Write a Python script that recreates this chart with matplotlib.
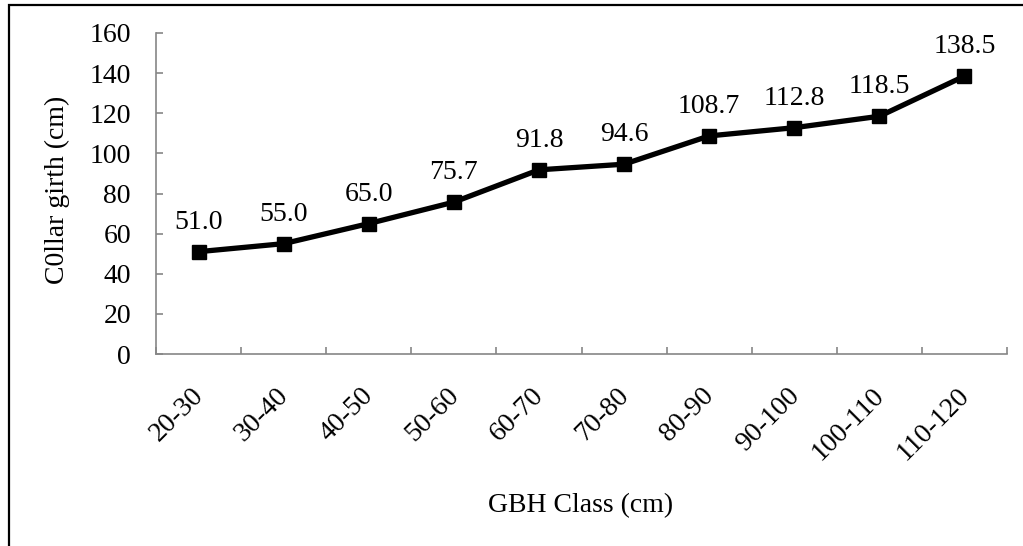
import numpy as np
import matplotlib.pyplot as plt
import matplotlib.transforms as mtransforms
from matplotlib.patches import Rectangle

# GBH classes and mean collar girth
classes = ['20-30', '30-40', '40-50', '50-60', '60-70',
           '70-80', '80-90', '90-100', '100-110', '110-120']
girth = [51.0, 55.0, 65.0, 75.7, 91.8, 94.6, 108.7, 112.8, 118.5, 138.5]
yticks = [0, 20, 40, 60, 80, 100, 120, 140, 160]

plt.rcParams['font.family'] = ['Liberation Serif', 'DejaVu Serif']
fs = 20

fig = plt.figure(figsize=(10.23, 5.46), dpi=100)
ax = fig.add_axes([156/1023, 1 - 354/546, 851/1023, 321/546])

x = np.arange(len(classes))
ax.plot(x, girth, '-s', color='black', lw=3.8, ms=9.5)

# value labels above each point
for xi, yi in zip(x, girth):
    ax.annotate('%.1f' % yi, (xi, yi), xytext=(0, 16.5),
                textcoords='offset points', ha='center', va='baseline',
                fontsize=fs)

ax.set_xlim(-0.5, len(classes) - 0.5)
ax.set_ylim(0, 160)
ax.set_yticks(yticks)
ax.set_xticks(np.arange(len(classes) + 1) - 0.5)
ax.set_xticklabels([])

# slanted category labels, placed by hand
trans = mtransforms.blended_transform_factory(ax.transData, ax.transAxes)
shift = mtransforms.ScaledTranslation(10/100, -29/100, fig.dpi_scale_trans)
for xi, lab in zip(x, classes):
    ax.text(xi, 0, lab, transform=trans + shift, rotation=45,
            ha='right', va='top', fontsize=fs)

gray = '#868686'
for s in ['top', 'right']:
    ax.spines[s].set_visible(False)
for s in ['left', 'bottom']:
    ax.spines[s].set_color(gray)
    ax.spines[s].set_linewidth(1.2)

ax.tick_params(axis='y', direction='in', length=5, width=1.2, color=gray,
               pad=18, labelsize=fs)
ax.tick_params(axis='x', direction='in', length=5, width=1.2, color=gray)

fig.text(581/1023, 1 - 512/546, 'GBH Class (cm)', ha='center',
         va='baseline', fontsize=fs)
fig.text(57/1023, 1 - 190/546, 'C0llar girth (cm)', ha='center',
         va='center', rotation=90, fontsize=fs)

# outer chart frame
fig.patches.append(Rectangle((9/1023, -0.1), 1.2, 1.1 - 5/546,
                             transform=fig.transFigure, fill=False,
                             edgecolor='black', lw=1.6))

fig.savefig('out.png', dpi=100)
